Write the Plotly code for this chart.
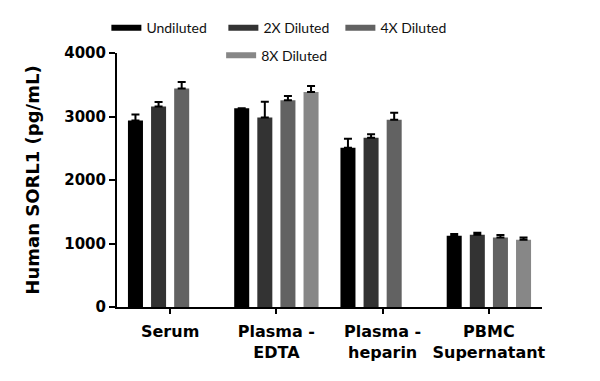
import plotly.graph_objects as go

categories = ["Serum", "Plasma -<br>EDTA", "Plasma -<br>heparin", "PBMC<br>Supernatant"]
series_names = ["Undiluted", "2X Diluted", "4X Diluted", "8X Diluted"]
values = {
    "Undiluted": [2938, 3128, 2507, 1122],
    "2X Diluted": [3159, 2986, 2665, 1137],
    "4X Diluted": [3439, 3254, 2950, 1095],
    "8X Diluted": [None, 3385, None, 1058],
}
errors = {
    "Undiluted": [95, 0, 142, 26],
    "2X Diluted": [68, 247, 57, 32],
    "4X Diluted": [104, 68, 110, 37],
    "8X Diluted": [0, 95, 0, 37],
}
colors = ["#000000", "#333333", "#626262", "#878787"]
legend_slots = ["legend", "legend", "legend", "legend2"]

FONT = "DejaVu Sans"
fig = go.Figure()
for name, col, lg in zip(series_names, colors, legend_slots):
    fig.add_trace(go.Bar(
        x=categories, y=values[name], name=name, marker_color=col,
        marker_line_width=0, showlegend=False,
        error_y=dict(type="data", symmetric=False, array=errors[name],
                     arrayminus=[0] * len(categories), color="black",
                     thickness=2, width=4),
    ))
    fig.add_trace(go.Scatter(
        x=[None], y=[None], mode="lines", name=name, legend=lg,
        line=dict(color=col, width=6), showlegend=True,
    ))

legend_common = dict(orientation="h", xanchor="left", yanchor="top",
                     entrywidth=72, entrywidthmode="pixels",
                     font=dict(size=14, family="Lato", color="#111"),
                     itemwidth=30, tracegroupgap=0, bgcolor="rgba(0,0,0,0)")

fig.update_layout(
    width=592, height=373,
    margin=dict(l=109, r=58, t=45, b=74, autoexpand=False),
    plot_bgcolor="white", paper_bgcolor="white",
    barmode="group", bargap=0.13, bargroupgap=0.35,
    font=dict(family=FONT, color="black"),
    legend=dict(x=-0.025, y=1.161, **legend_common),
    legend2=dict(x=0.245, y=1.053, **legend_common),
    xaxis=dict(range=[-0.5, 3.5], showline=True, linecolor="black", linewidth=2,
               ticks="outside", ticklen=5, tickwidth=2, tickcolor="black",
               tickfont=dict(size=16, family=FONT, weight="bold"),
               ticklabelstandoff=4,
               showgrid=False, zeroline=False),
    yaxis=dict(range=[0, 4000], showline=True, linecolor="black", linewidth=2,
               ticks="outside", ticklen=6, tickwidth=2, tickcolor="black",
               tickvals=[0, 1000, 2000, 3000, 4000],
               tickfont=dict(size=15, family=FONT, weight="bold"),
               title=dict(text="Human SORL1 (pg/mL)", font=dict(size=18, family=FONT, weight="bold"), standoff=20),
               showgrid=False, zeroline=False),
)

fig.write_html("out.html")
